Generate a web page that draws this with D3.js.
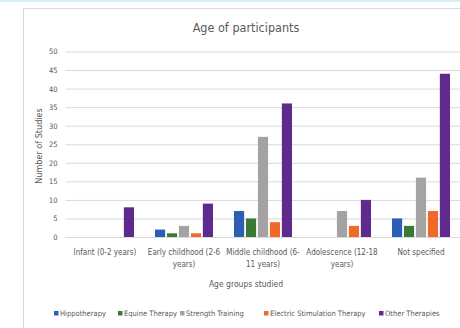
<!DOCTYPE html>
<html>
<head>
<meta charset="utf-8">
<script src="https://cdn.jsdelivr.net/npm/d3@7/dist/d3.min.js"></script>
<style>
  html, body { margin: 0; padding: 0; background: #fff; }
  svg { display: block; }
  text { font-family: "Liberation Sans Narrow", "DejaVu Sans Condensed", "Open Sans", sans-serif; fill: #595959; }
</style>
</head>
<body>
<svg id="chart" width="460" height="328"></svg>
<script>
// Age groups and the therapy series counted for each of them
const categories = [
  ["Infant (0-2 years)"],
  ["Early childhood (2-6", "years)"],
  ["Middle childhood (6-", "11 years)"],
  ["Adolescence (12-18", "years)"],
  ["Not specified"]
];
const seriesNames = ["Hippotherapy", "Equine Therapy", "Strength Training", "Electric Stimulation Therapy", "Other Therapies"];
const seriesColors = ["#2b5fb5", "#3b7a34", "#a3a3a3", "#ef6a2a", "#5f2a8e"];
const hippotherapy = [0, 2, 7, 0, 5];
const equineTherapy = [0, 1, 5, 0, 3];
const strengthTraining = [0, 3, 27, 7, 16];
const electricStimulation = [0, 1, 4, 3, 7];
const otherTherapies = [8, 9, 36, 10, 44];
const yTicks = [0, 5, 10, 15, 20, 25, 30, 35, 40, 45, 50];

const seriesValues = [hippotherapy, equineTherapy, strengthTraining, electricStimulation, otherTherapies];

const svg = d3.select("#chart");

// page band and chart frame
svg.append("rect").attr("x", 0).attr("y", 0).attr("width", 460).attr("height", 2).attr("fill", "#dcecf6");
svg.append("rect").attr("x", 23.5).attr("y", 8.5).attr("width", 460).attr("height", 340)
  .attr("fill", "#fff").attr("stroke", "#d9d9d9").attr("stroke-width", 1);

const plot = { left: 65.5, right: 460.5, top: 51.5, bottom: 237 };

const x0 = d3.scaleBand()
  .domain(d3.range(categories.length))
  .range([plot.left, plot.right])
  .paddingInner(0.22)
  .paddingOuter(0.11);

const x1 = d3.scaleBand()
  .domain(d3.range(seriesNames.length))
  .range([0, x0.bandwidth()])
  .padding(0.15);

const y = d3.scaleLinear().domain([0, 50]).range([plot.bottom, plot.top]);

// gridlines and value labels
const yAxis = d3.axisLeft(y).tickValues(yTicks).tickSize(-(plot.right - plot.left)).tickPadding(8);
const gy = svg.append("g").attr("transform", `translate(${plot.left},0)`).call(yAxis);
gy.select(".domain").remove();
gy.selectAll(".tick line").attr("stroke", "#d9d9d9").attr("stroke-width", 1);
gy.selectAll(".tick text").attr("font-size", 7.5).attr("fill", "#595959")
  .style("font-family", '"Liberation Sans Narrow", "DejaVu Sans Condensed", sans-serif');

// bars
const groups = svg.append("g").selectAll("g")
  .data(categories.map((c, i) => i))
  .join("g")
  .attr("transform", i => `translate(${x0(i)},0)`);

groups.selectAll("rect")
  .data(i => seriesValues.map((vals, s) => ({ s, v: vals[i] })))
  .join("rect")
  .filter(d => d.v > 0)
  .attr("x", d => x1(d.s))
  .attr("width", x1.bandwidth())
  .attr("y", d => y(d.v))
  .attr("height", d => y(0) - y(d.v))
  .attr("fill", d => seriesColors[d.s]);

// category labels
const xAxis = svg.append("g");
categories.forEach((lines, i) => {
  const cx = x0(i) + x0.bandwidth() / 2;
  const t = xAxis.append("text")
    .attr("x", cx)
    .attr("y", 255)
    .attr("text-anchor", "middle")
    .attr("font-size", 8);
  lines.forEach((ln, k) => {
    t.append("tspan").attr("x", cx).attr("dy", k === 0 ? 0 : 12).text(ln);
  });
});

// titles
svg.append("text").attr("x", 246).attr("y", 32).attr("text-anchor", "middle")
  .attr("font-size", 12.5).attr("fill", "#404040").text("Age of participants");
svg.append("text").attr("x", 246).attr("y", 287).attr("text-anchor", "middle")
  .attr("font-size", 8.5).attr("fill", "#404040").text("Age groups studied");
svg.append("text").attr("transform", "translate(42,146) rotate(-90)").attr("text-anchor", "middle")
  .attr("font-size", 9).attr("fill", "#404040").text("Number of Studies");

// legend
const legendX = [54, 118, 180, 264, 379];
const legend = svg.append("g").selectAll("g")
  .data(seriesNames)
  .join("g")
  .attr("transform", (d, i) => `translate(${legendX[i]},316)`);
legend.append("rect").attr("x", 0).attr("y", -5).attr("width", 4.5).attr("height", 4.5)
  .attr("fill", (d, i) => seriesColors[i]);
legend.append("text").attr("x", 6).attr("y", 0).attr("font-size", 7.5).text(d => d);
</script>
</body>
</html>
